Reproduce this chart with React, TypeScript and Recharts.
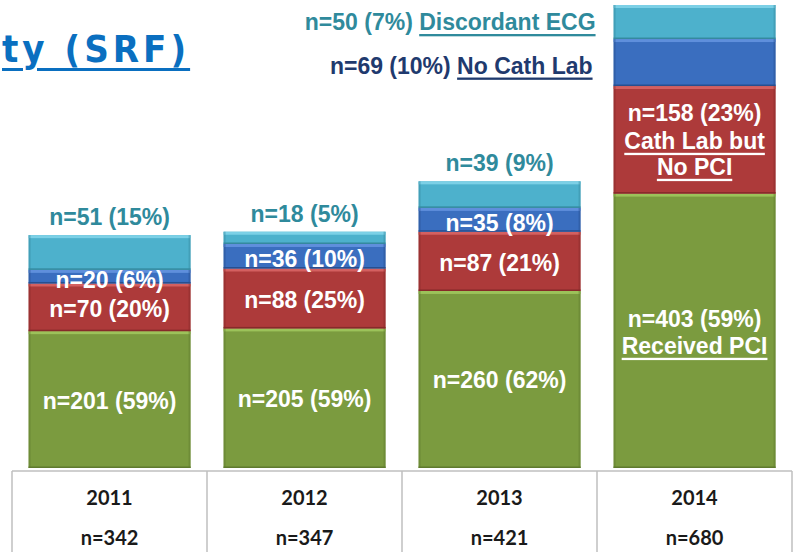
import { Bar, BarChart, LabelList, XAxis, YAxis } from "recharts";

const years = ["2011", "2012", "2013", "2014"];
const totals = [342, 347, 421, 680];
const receivedPci = [201, 205, 260, 403];
const cathNoPci = [70, 88, 87, 158];
const noCathLab = [20, 36, 35, 69];
const discordantEcg = [51, 18, 39, 50];

const chartData = years.map((year, i) => ({
	year,
	pci: receivedPci[i],
	cath: cathNoPci[i],
	noCath: noCathLab[i],
	ecg: discordantEcg[i],
}));

const LABEL_FONT = "'Liberation Sans', Arial, sans-serif";
const TABLE_FONT = "Lato, 'Open Sans', sans-serif";
const TITLE_FONT = "'DejaVu Sans Condensed', 'DejaVu Sans', sans-serif";
const TEAL = "#2f8a9c";
const NAVY = "#1f3a6e";
const BAND = 195;

const nLabel = (v: number, i: number) =>
	`n=${v} (${Math.round((v / totals[i]) * 100)}%)`;

const bevel = (fill: string, light: string, dark: string) => (props: any) => {
	const { x, y, width, height } = props;
	if (!height || height <= 0) return <g />;
	return (
		<g>
			<rect x={x} y={y} width={width} height={height} fill={fill} />
			<rect x={x} y={y} width={width} height={Math.min(3, height)} fill={light} />
			<rect x={x} y={y} width={2} height={height} fill={dark} opacity={0.45} />
			<rect x={x + width - 2} y={y} width={2} height={height} fill={dark} opacity={0.45} />
			<rect x={x} y={y + height - 1.5} width={width} height={1.5} fill={dark} />
		</g>
	);
};

const textProps = {
	fontFamily: LABEL_FONT,
	fontWeight: 700,
	fontSize: 23,
	textAnchor: "middle" as const,
	dominantBaseline: "central" as const,
};

const pciLabel = (p: any) => {
	const { x, y, width, height, index, value } = p;
	const cx = x + width / 2;
	const cy = y + height / 2;
	if (index === 3) {
		return (
			<g>
				<text {...textProps} x={cx} y={cy - 12} fill="#fff">{nLabel(value, index)}</text>
				<text {...textProps} x={cx} y={cy + 15} fill="#fff" textDecoration="underline">Received PCI</text>
			</g>
		);
	}
	return <text {...textProps} x={cx} y={cy + 1} fill="#fff">{nLabel(value, index)}</text>;
};

const cathLabel = (p: any) => {
	const { x, y, width, height, index, value } = p;
	const cx = x + width / 2;
	const cy = y + height / 2;
	if (index === 3) {
		return (
			<g>
				<text {...textProps} x={cx} y={cy - 27} fill="#fff">{nLabel(value, index)}</text>
				<text {...textProps} x={cx} y={cy + 1} fill="#fff" textDecoration="underline">Cath Lab but</text>
				<text {...textProps} x={cx} y={cy + 27} fill="#fff" textDecoration="underline">No PCI</text>
			</g>
		);
	}
	return <text {...textProps} x={cx} y={cy + 2} fill="#fff">{nLabel(value, index)}</text>;
};

const noCathLabel = (p: any) => {
	const { x, y, width, height, index, value } = p;
	if (index === 3) {
		return (
			<text {...textProps} textAnchor="end" x={x - 21} y={y + height / 2 + 3} fill={NAVY}>
				{nLabel(value, index)} <tspan textDecoration="underline">No Cath Lab</tspan>
			</text>
		);
	}
	return (
		<text {...textProps} x={x + width / 2} y={y + height / 2 + 3} fill="#fff">
			{nLabel(value, index)}
		</text>
	);
};

const ecgLabel = (p: any) => {
	const { x, y, width, height, index, value } = p;
	if (index === 3) {
		return (
			<text {...textProps} textAnchor="end" x={x - 18} y={y + height / 2} fill={TEAL}>
				{nLabel(value, index)} <tspan textDecoration="underline">Discordant ECG</tspan>
			</text>
		);
	}
	return (
		<text {...textProps} x={x + width / 2} y={y - 18} fill={TEAL}>
			{nLabel(value, index)}
		</text>
	);
};

const TableTick = (props: any) => {
	const { x, y, payload, index } = props;
	const left = x - BAND / 2;
	const right = x + BAND / 2;
	const top = y + 3;
	const cell = {
		textAnchor: "middle" as const,
		dominantBaseline: "central" as const,
		fontFamily: TABLE_FONT,
		fontWeight: 700,
		fontSize: 20,
		fill: "#1a1a1a",
	};
	return (
		<g>
			<line x1={left} x2={right} y1={top} y2={top} stroke="#bfbfbf" strokeWidth={1.5} />
			<line x1={left} x2={left} y1={top} y2={552} stroke="#bfbfbf" strokeWidth={1.5} />
			{index === years.length - 1 && (
				<line x1={right} x2={right} y1={top} y2={552} stroke="#bfbfbf" strokeWidth={1.5} />
			)}
			<text {...cell} x={x} y={top + 26}>
				{payload.value}
			</text>
			<text {...cell} x={x} y={top + 66}>
				n={totals[index]}
			</text>
		</g>
	);
};

export default function App() {
	return (
		<div style={{ position: "absolute", left: 0, top: 0, width: 799, height: 552, background: "#fff", overflow: "hidden" }}>
			<div
				style={{
					position: "absolute",
					left: 2,
					top: 27,
					fontFamily: TITLE_FONT,
					fontWeight: 700,
					fontSize: 38,
					letterSpacing: 4,
					color: "#0a6fc0",
					textDecoration: "underline",
					textDecorationThickness: 3,
					textUnderlineOffset: 6,
					lineHeight: "44px",
					whiteSpace: "nowrap",
				}}
			>
				ty (SRF)
			</div>
			<BarChart
				width={799}
				height={552}
				data={chartData}
				margin={{ top: 5, right: 7, bottom: 0, left: 12 }}
				barCategoryGap="8.5%"
			>
				<YAxis hide domain={[0, 680]} />
				<XAxis
					dataKey="year"
					height={84}
					axisLine={false}
					tickLine={false}
					tickSize={0}
					tickMargin={0}
					interval={0}
					tick={<TableTick />}
				/>
				<Bar dataKey="pci" stackId="a" isAnimationActive={false} shape={bevel("#7b9b3f", "#9cc25a", "#5f7a2e")}>
					<LabelList dataKey="pci" content={pciLabel} />
				</Bar>
				<Bar dataKey="cath" stackId="a" isAnimationActive={false} shape={bevel("#ad3a3a", "#d46060", "#862a2a")}>
					<LabelList dataKey="cath" content={cathLabel} />
				</Bar>
				<Bar dataKey="noCath" stackId="a" isAnimationActive={false} shape={bevel("#3a6ebf", "#5f8fdc", "#284f8f")}>
					<LabelList dataKey="noCath" content={noCathLabel} />
				</Bar>
				<Bar dataKey="ecg" stackId="a" isAnimationActive={false} shape={bevel("#4db1cc", "#7cd0e6", "#35899f")}>
					<LabelList dataKey="ecg" content={ecgLabel} />
				</Bar>
			</BarChart>
		</div>
	);
}
